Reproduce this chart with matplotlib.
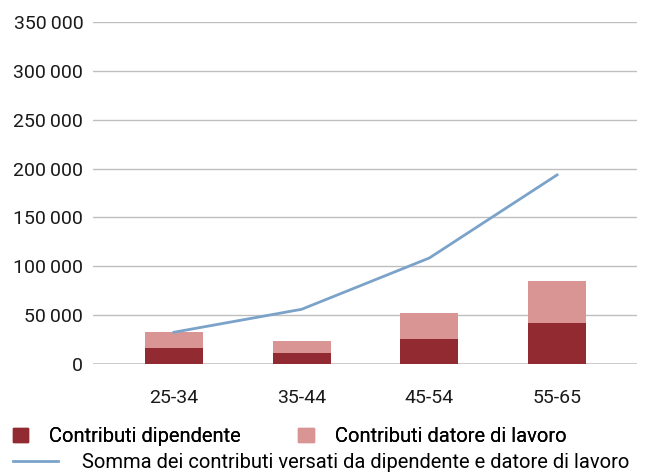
import matplotlib.pyplot as plt
from matplotlib.patches import Patch
from matplotlib.lines import Line2D
from matplotlib.ticker import FuncFormatter

plt.rcParams['font.family'] = ['Roboto', 'DejaVu Sans']

# Data
age_groups = ['25-34', '35-44', '45-54', '55-65']
employee = [16500, 11500, 25500, 42000]
employer = [16500, 12000, 26500, 43000]
total_paid = [32500, 56000, 108500, 193500]

dark_red = '#922a31'
pink = '#d99594'
blue = '#7ba3c9'

fig = plt.figure(figsize=(6.54, 4.74), dpi=100)
ax = fig.add_axes([93 / 654, 1 - 364 / 474, 544 / 654, 342 / 474])

x = range(len(age_groups))
ax.bar(x, employee, width=0.455, color=dark_red, zorder=2)
ax.bar(x, employer, width=0.455, bottom=employee, color=pink, zorder=2)
ax.plot(x, total_paid, color=blue, linewidth=2, zorder=3)

ax.set_xlim(-0.634, 3.626)
ax.set_ylim(0, 350000)
ax.set_yticks(range(0, 350001, 50000))
ax.yaxis.set_major_formatter(FuncFormatter(lambda v, p: f"{int(v):,}".replace(',', '\u2009')))
ax.set_xticks(list(x))
ax.set_xticklabels(age_groups)

ax.grid(axis='y', color='#bfbfbf', linewidth=1)
ax.set_axisbelow(True)
for s in ax.spines.values():
    s.set_visible(False)
ax.axhline(0, color='#c8c8c8', linewidth=2, zorder=1)
ax.tick_params(axis='both', length=0, labelsize=14, colors='#1a1a1a')
ax.tick_params(axis='y', pad=7)
ax.tick_params(axis='x', pad=18)

# Legend: two bar entries on first row, line entry below
leg1 = fig.legend(handles=[Patch(color=dark_red, label='Contributi dipendente'),
                           Patch(color=pink, label='Contributi datore di lavoro')],
                  loc='center left', bbox_to_anchor=(13 / 654, 1 - 436.5 / 474),
                  ncol=2, frameon=False, fontsize=14.5, handlelength=0.75, handleheight=0.75,
                  handletextpad=1.05, columnspacing=2.85, borderaxespad=0, borderpad=0)
fig.add_artist(leg1)
fig.legend(handles=[Line2D([], [], color=blue, linewidth=2,
                           label='Somma dei contributi versati da dipendente e datore di lavoro')],
           loc='center left', bbox_to_anchor=(13 / 654, 1 - 463 / 474),
           frameon=False, fontsize=14.5, handlelength=2.25, handletextpad=1.2,
           borderaxespad=0, borderpad=0)

fig.savefig('out.png', dpi=100)
